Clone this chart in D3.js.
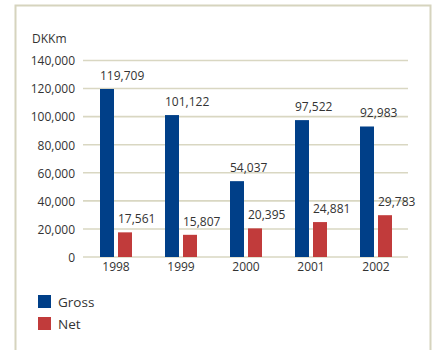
<!DOCTYPE html>
<html>
<head>
<meta charset="utf-8">
<script src="https://cdn.jsdelivr.net/npm/d3@7"></script>
<style>
  html, body { margin: 0; padding: 0; background: #fff; }
  svg { display: block; }
  text { font-family: "Open Sans", "Noto Sans", sans-serif; fill: #333; }
</style>
</head>
<body>
<svg id="chart" width="433" height="350"></svg>
<script>
// Annual figures, DKK million
const years = ["1998", "1999", "2000", "2001", "2002"];
const series = ["Gross", "Net"];
const gross = [119709, 101122, 54037, 97522, 92983];
const net = [17561, 15807, 20395, 24881, 29783];
const yTicks = [0, 20000, 40000, 60000, 80000, 100000, 120000, 140000];
const seriesColors = ["#003f88", "#c13b3b"];

const values = { Gross: gross, Net: net };
const svg = d3.select("#chart");

// Panel frame
svg.append("path")
  .attr("d", "M15.5,352 V5.5 H430.5 V352")
  .attr("fill", "none")
  .attr("stroke", "#d6d4be")
  .attr("stroke-width", 2);

const x0 = d3.scaleBand().domain(years).range([83, 408]).padding(0);
const x1 = d3.scaleBand().domain(series).range([17, 49]).paddingInner(2 - 32 / 18).paddingOuter(0);
const y = d3.scaleLinear().domain([0, 140000]).range([257, 60.5]);
const color = d3.scaleOrdinal().domain(series).range(seriesColors);
const fmt = d3.format(",");

// Horizontal gridlines
svg.append("g")
  .selectAll("line")
  .data(yTicks)
  .join("line")
  .attr("x1", 83)
  .attr("x2", 408)
  .attr("y1", d => y(d))
  .attr("y2", d => y(d))
  .attr("stroke", "#d9d7c2")
  .attr("stroke-width", 1.6);

// Y-axis labels
const yAxis = d3.axisLeft(y).tickValues(yTicks).tickFormat(fmt).tickSize(0).tickPadding(0);
const gy = svg.append("g").attr("transform", "translate(75,0)").call(yAxis);
gy.select(".domain").remove();
gy.selectAll("text")
  .attr("font-size", 12)
  .attr("font-family", null)
  .attr("fill", "#333")
  .attr("dy", "0.36em");

// Unit label
svg.append("text")
  .attr("x", 32)
  .attr("y", 43)
  .attr("font-size", 12)
  .text("DKKm");

// Bars
const groups = svg.append("g")
  .selectAll("g")
  .data(years)
  .join("g")
  .attr("transform", d => `translate(${x0(d)},0)`);

const bars = groups.selectAll("g")
  .data((d, i) => series.map(s => ({ s, v: values[s][i] })))
  .join("g");

bars.append("rect")
  .attr("x", d => x1(d.s))
  .attr("width", x1.bandwidth())
  .attr("y", d => y(d.v))
  .attr("height", d => y(0) - y(d.v))
  .attr("fill", d => color(d.s));

// Value labels, aligned to each bar's left edge
bars.append("text")
  .attr("x", d => x1(d.s))
  .attr("y", d => y(d.v) - 9)
  .attr("font-size", 12)
  .text(d => fmt(d.v));

// X-axis labels
const xAxis = d3.axisBottom(x0).tickSize(0).tickPadding(0);
const gx = svg.append("g").attr("transform", "translate(0.5,262)").call(xAxis);
gx.select(".domain").remove();
gx.selectAll("text")
  .attr("font-size", 12)
  .attr("font-family", null)
  .attr("fill", "#333")
  .attr("dy", "0.71em");

// Legend
const legend = svg.append("g")
  .selectAll("g")
  .data(series)
  .join("g")
  .attr("transform", (d, i) => `translate(38,${295 + i * 22})`);

legend.append("rect")
  .attr("width", 13)
  .attr("height", 13)
  .attr("fill", d => color(d));

legend.append("text")
  .attr("x", 20)
  .attr("y", 11.5)
  .attr("font-size", 13.5)
  .text(d => d);
</script>
</body>
</html>
